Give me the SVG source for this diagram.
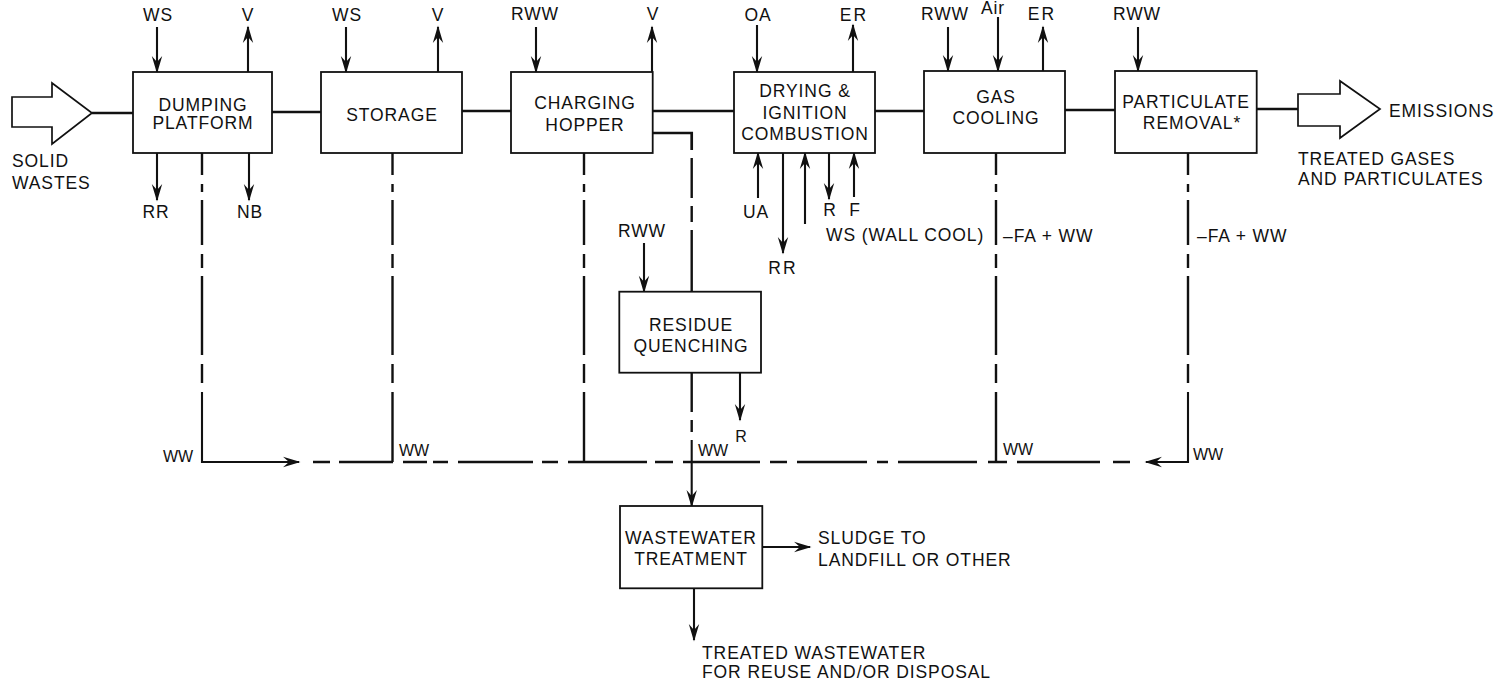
<svg xmlns="http://www.w3.org/2000/svg" width="1505" height="682" viewBox="0 0 1505 682">
<style>
text{font-family:"Liberation Sans",Arial,Helvetica,sans-serif;font-size:17.5px;fill:#111;letter-spacing:0.9px}
.c{text-anchor:middle}
.s{font-size:16px;letter-spacing:0}
.box{fill:#fff;stroke:#111;stroke-width:1.8}
.main{fill:none;stroke:#111;stroke-width:2.7}
.ar{fill:none;stroke:#111;stroke-width:2.1;marker-end:url(#ah)}
.dl{fill:none;stroke:#111;stroke-width:2.4}
.big{fill:#fff;stroke:#111;stroke-width:1.7;stroke-linejoin:miter}
</style>
<defs>
<marker id="ah" markerUnits="userSpaceOnUse" orient="auto" viewBox="-18 -7 20 14" refX="0" refY="0" markerWidth="20" markerHeight="14">
<path d="M1.5,0 L-16,-5.2 L-10,0 L-16,5.2 Z" fill="#111"/>
</marker>
</defs>
<rect width="1505" height="682" fill="#fff"/>

<g id="connectors">
<polygon class="big" points="12,97 52,97 52,83 92,113 52,144 52,127 12,127"/>
<polygon class="big" points="1298,94 1340,94 1340,81 1380,109 1340,138 1340,126 1298,126"/>
<path class="main" d="M92,113 L133,113 M272,112 L321,112 M462,111 L511,111 M652.7,111 L734,111 M875,111 L924,111 M1065,110 L1115,110 M1257,109 L1298,109"/>
<path class="ar" d="M157,27 L157,72"/>
<path class="ar" d="M248,72 L248,27"/>
<path class="ar" d="M346,27 L346,72"/>
<path class="ar" d="M438,72 L438,27"/>
<path class="ar" d="M536,27 L536,72"/>
<path class="ar" d="M652,72 L652,27"/>
<path class="ar" d="M757,25 L757,72"/>
<path class="ar" d="M853,72 L853,25"/>
<path class="ar" d="M948,27 L948,71"/>
<path class="ar" d="M998,17 L998,71"/>
<path class="ar" d="M1043,71 L1043,27"/>
<path class="ar" d="M1138,27 L1138,71"/>
<path class="ar" d="M157,153 L157,200"/>
<path class="ar" d="M249,153 L249,200"/>
<path class="ar" d="M758,198 L758,153"/>
<path class="ar" d="M783,153 L783,253"/>
<path class="ar" d="M805,224 L805,153"/>
<path class="ar" d="M829,153 L829,199"/>
<path class="ar" d="M854,197 L854,153"/>
<path class="ar" d="M644,243 L644,291.7"/>
<path class="ar" d="M740,372.7 L740,420"/>
<path class="ar" d="M762,547 L810,547"/>
<path class="ar" d="M694,588 L694,640"/>
<path class="dl" d="M202,153 L202,175 M202,184 L202,192 M202,200 L202,245 M202,254 L202,268 M202,276 L202,355 M202,364 L202,383"/>
<path class="dl" d="M392.5,153 L392.5,175 M392.5,184 L392.5,192 M392.5,200 L392.5,245 M392.5,254 L392.5,268 M392.5,276 L392.5,355 M392.5,364 L392.5,383 M392.5,392 L392.5,462"/>
<path class="dl" d="M584,153 L584,175 M584,184 L584,192 M584,200 L584,245 M584,254 L584,268 M584,276 L584,355 M584,364 L584,383 M584,392 L584,462"/>
<path class="dl" d="M996,153 L996,175 M996,184 L996,192 M996,200 L996,245 M996,254 L996,268 M996,276 L996,355 M996,364 L996,383 M996,392 L996,462"/>
<path class="dl" d="M1188,153 L1188,175 M1188,184 L1188,192 M1188,200 L1188,245 M1188,254 L1188,268 M1188,276 L1188,355 M1188,364 L1188,383"/>
<path class="main" d="M652.7,133 L691.7,133 L691.7,150"/>
<path class="dl" d="M691.7,158 L691.7,198 M691.7,206 L691.7,222 M691.7,230 L691.7,292"/>
<path class="dl" d="M691.7,373 L691.7,412 M691.7,420 L691.7,432"/>
<path class="ar" d="M691.7,440 L691.7,506"/>
<path class="ar" d="M202,392 L202,462 L299,462"/>
<path class="ar" d="M1188,392 L1188,462 L1146,462"/>
<path class="dl" d="M313,462 L330,462 M339,462 L393,462 M403,462 L427,462 M433,462 L448,462 M458,462 L533,462 M542,462 L558,462 M568,462 L647,462 M655,462 L673,462 M683,462 L760,462 M770,462 L787,462 M797,462 L867,462 M877,462 L888,462 M898,462 L977,462 M988,462 L1007,462 M1017,462 L1100,462 M1113,462 L1130,462"/>
</g>

<g id="labels">
<text x="12" y="167">SOLID</text>
<text x="12" y="189">WASTES</text>
<text class="c" x="158" y="21">WS</text>
<text class="c" x="248" y="21">V</text>
<text class="c" x="156" y="218">RR</text>
<text class="c" x="250" y="218">NB</text>
<text class="c" x="347" y="21">WS</text>
<text class="c" x="438" y="21">V</text>
<text class="c" x="535" y="20">RWW</text>
<text class="c" x="653" y="20">V</text>
<text class="c" x="758" y="21">OA</text>
<text class="c" x="854" y="21" style="letter-spacing:2px">ER</text>
<text class="c" x="945" y="20">RWW</text>
<text class="c" x="993" y="14">Air</text>
<text class="c" x="1042" y="20" style="letter-spacing:2px">ER</text>
<text class="c" x="1137" y="20">RWW</text>
<text class="c" x="756" y="218">UA</text>
<text class="c" x="783" y="274" style="letter-spacing:2px">RR</text>
<text class="c" x="830" y="216">R</text>
<text class="c" x="855" y="216">F</text>
<text x="826" y="241">WS (WALL COOL)</text>
<text x="1003" y="242">–FA + WW</text>
<text x="1197" y="242">–FA + WW</text>
<text class="c" x="642" y="237">RWW</text>
<text class="c s" x="741" y="442">R</text>
<text class="s" x="163" y="462">WW</text>
<text class="s" x="399" y="456">WW</text>
<text class="s" x="698" y="456">WW</text>
<text class="s" x="1003" y="455">WW</text>
<text class="s" x="1193" y="460">WW</text>
<text x="1389" y="117">EMISSIONS</text>
<text x="1298" y="165">TREATED GASES</text>
<text x="1298" y="185">AND PARTICULATES</text>
<text x="818" y="544">SLUDGE TO</text>
<text x="818" y="566">LANDFILL OR OTHER</text>
<text x="702" y="659">TREATED WASTEWATER</text>
<text x="702" y="678">FOR REUSE AND/OR DISPOSAL</text>
</g>

<g id="dumping-platform">
<rect class="box" x="133" y="72" width="139" height="81"/>
<text class="c" x="203" y="111">DUMPING</text>
<text class="c" x="203" y="129">PLATFORM</text>
</g>
<g id="storage">
<rect class="box" x="321" y="72" width="141" height="81"/>
<text class="c" x="392" y="121">STORAGE</text>
</g>
<g id="charging-hopper">
<rect class="box" x="511" y="72" width="141.7" height="81"/>
<text class="c" x="585" y="109">CHARGING</text>
<text class="c" x="585" y="131">HOPPER</text>
</g>
<g id="drying-combustion">
<rect class="box" x="734" y="72" width="141" height="81"/>
<text class="c" x="805" y="97">DRYING &amp;</text>
<text class="c" x="805" y="119">IGNITION</text>
<text class="c" x="805" y="140">COMBUSTION</text>
</g>
<g id="gas-cooling">
<rect class="box" x="924" y="71" width="141" height="82"/>
<text class="c" x="996" y="103">GAS</text>
<text class="c" x="996" y="124">COOLING</text>
</g>
<g id="particulate-removal">
<rect class="box" x="1115" y="71" width="141.7" height="82"/>
<text class="c" x="1186" y="108">PARTICULATE</text>
<text class="c" x="1192" y="129">REMOVAL*</text>
</g>
<g id="residue-quenching">
<rect class="box" x="619.3" y="291.7" width="141.7" height="81"/>
<text class="c" x="691" y="331">RESIDUE</text>
<text class="c" x="691" y="352">QUENCHING</text>
</g>
<g id="wastewater-treatment">
<rect class="box" x="620" y="506" width="142.3" height="82.3"/>
<text class="c" x="691" y="544">WASTEWATER</text>
<text class="c" x="691" y="565">TREATMENT</text>
</g>
</svg>
